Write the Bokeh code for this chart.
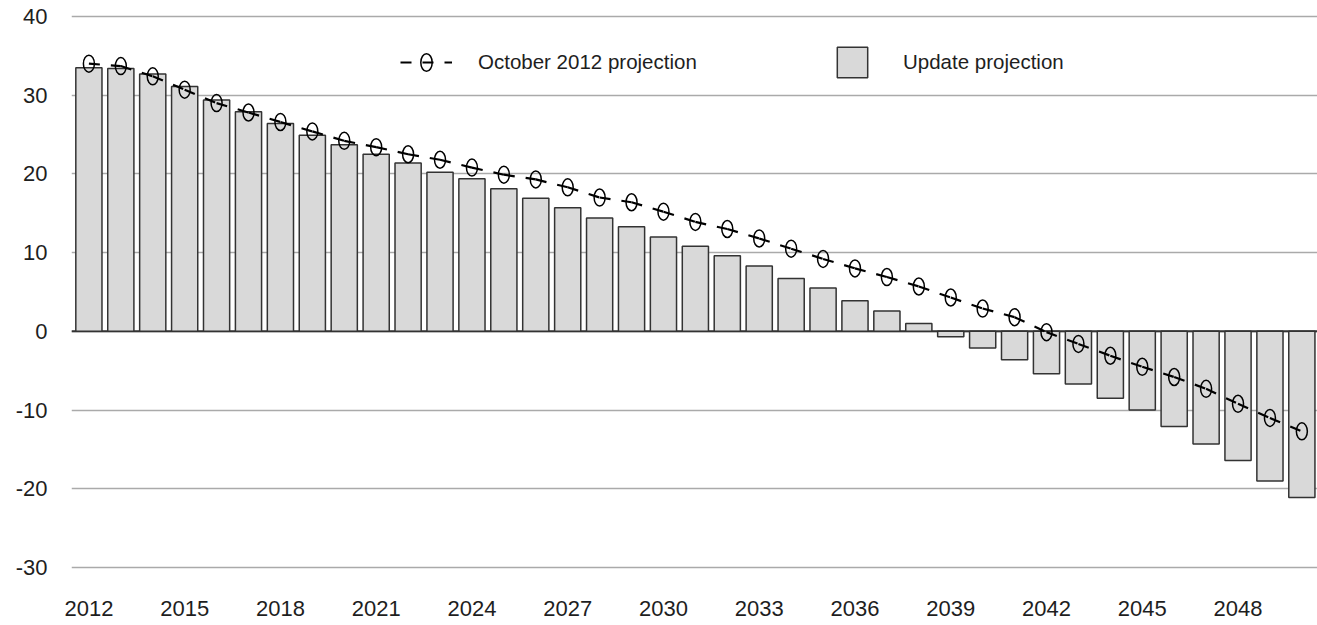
from bokeh.plotting import figure
from bokeh.models import ColumnDataSource, FixedTicker, Range1d, Span, Legend, LegendItem
from bokeh.embed import file_html
from bokeh.resources import INLINE

years = list(range(2012, 2051))
update_projection = [33.5, 33.4, 32.7, 31.1, 29.4, 27.9, 26.4, 24.9, 23.7, 22.5, 21.4, 20.2,
                     19.4, 18.1, 16.9, 15.7, 14.4, 13.3, 12.0, 10.8, 9.6, 8.3, 6.7, 5.5, 3.9, 2.6,
                     1.0, -0.7, -2.1, -3.6, -5.4, -6.7, -8.5, -10.0, -12.1, -14.3, -16.4, -19.0, -21.1]
october_2012_projection = [34.0, 33.7, 32.4, 30.7, 29.0, 27.8, 26.6, 25.4, 24.2, 23.4, 22.5, 21.8,
                           20.8, 19.9, 19.3, 18.3, 17.0, 16.4, 15.2, 13.9, 13.0, 11.8, 10.5, 9.2, 8.0,
                           6.9, 5.7, 4.3, 2.9, 1.8, -0.1, -1.6, -3.1, -4.5, -5.8, -7.3, -9.2, -11.0, -12.7]
x_tick_years = [2012, 2015, 2018, 2021, 2024, 2027, 2030, 2033, 2036, 2039, 2042, 2045, 2048]
y_ticks = [-30, -20, -10, 0, 10, 20, 30, 40]

FONT = "Liberation Sans"
TEXT = "#1e1e1e"

src = ColumnDataSource(dict(year=years, update=update_projection, october=october_2012_projection))
# consecutive pairs of the October projection, so the dash pattern restarts at every point
seg_src = ColumnDataSource(dict(x0=years[:-1], y0=october_2012_projection[:-1],
                                x1=years[1:], y1=october_2012_projection[1:]))

p = figure(width=1317, height=625, output_backend="svg", toolbar_location=None,
           x_range=Range1d(2011.455, 2050.49), y_range=Range1d(-32.92, 42.03),
           min_border_left=71, min_border_right=0, min_border_top=0, min_border_bottom=35)
p.outline_line_color = None
p.background_fill_color = "white"
p.border_fill_color = "white"

p.xgrid.visible = False
p.ygrid.ticker = FixedTicker(ticks=y_ticks)
p.ygrid.grid_line_color = "#aaaaaa"
p.ygrid.grid_line_width = 1.5

zero = Span(location=0, dimension="width", line_color="#333333", line_width=2, level="underlay")
p.add_layout(zero)

bars = p.vbar(x="year", top="update", bottom=0, width=0.82, source=src,
              fill_color="#d9d9d9", line_color="#333333", line_width=1.5)
line = p.segment(x0="x0", y0="y0", x1="x1", y1="y1", source=seg_src, line_color="black",
                 line_width=2.2, line_dash="11 11")
ell = p.ellipse("year", "october", width=11, height=17, width_units="screen", height_units="screen",
                source=src, fill_alpha=0, line_color="black", line_width=1.5)

for ax in (p.xaxis[0], p.yaxis[0]):
    ax.axis_line_color = None
    ax.major_tick_line_color = None
    ax.minor_tick_line_color = None
    ax.major_tick_out = 0
    ax.major_tick_in = 0
    ax.major_label_text_font = FONT
    ax.major_label_text_font_size = "22px"
    ax.major_label_text_color = TEXT

p.xaxis.ticker = FixedTicker(ticks=x_tick_years)
p.xaxis.major_label_standoff = 10
p.yaxis.ticker = FixedTicker(ticks=y_ticks)
p.yaxis.major_label_standoff = 24
p.yaxis.major_label_overrides = {t: str(t) for t in y_ticks}

leg1 = Legend(items=[LegendItem(label="October 2012 projection", renderers=[line, ell])],
              location=(329, 516), orientation="horizontal", glyph_width=52, glyph_height=22,
              label_standoff=26, padding=0, margin=0, border_line_color=None,
              background_fill_alpha=0, label_text_font=FONT, label_text_font_size="20.5px",
              label_text_color=TEXT)
leg2 = Legend(items=[LegendItem(label="Update projection", renderers=[bars])],
              location=(762, 509), orientation="horizontal", glyph_width=38, glyph_height=38,
              label_standoff=32, padding=0, margin=0, border_line_color=None,
              background_fill_alpha=0, label_text_font=FONT, label_text_font_size="20.5px",
              label_text_color=TEXT)
p.add_layout(leg1)
p.add_layout(leg2)

open("out.html", "w").write(file_html(p, INLINE))
